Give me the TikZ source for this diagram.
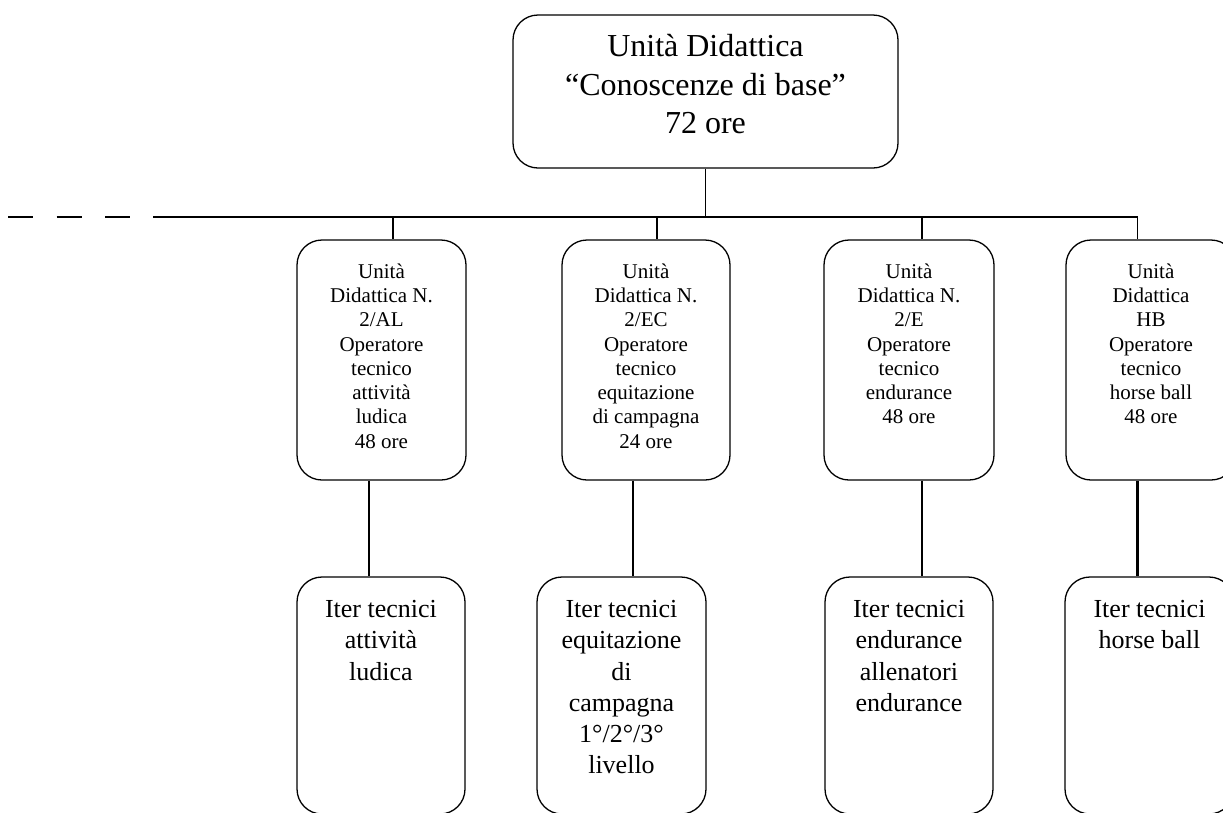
\documentclass[tikz,border=0pt]{standalone}
\usepackage{fontspec}
\setmainfont{Liberation Serif}
\begin{document}
\begin{tikzpicture}[x=1pt,y=-1pt,
  box/.style={draw, line width=1.3pt, rounded corners=25pt, inner sep=0pt},
  ln/.style={line width=1.3pt},
  heavyln/.style={line width=2.3pt},
  toptxt/.style={inner sep=0pt, align=center, anchor=north, font=\fontsize{32}{38.5}\selectfont},
  midtxt/.style={inner sep=0pt, align=center, anchor=north, font=\fontsize{21}{24.3}\selectfont},
  bottxt/.style={inner sep=0pt, align=center, anchor=north, font=\fontsize{26}{31.2}\selectfont}]
\useasboundingbox (0,0) rectangle (1223,812);
\clip (0,0) rectangle (1223,812);

% top box
\node[box, minimum width=385pt, minimum height=153pt] (top) at (705.5,91.5) {};
\node[toptxt] (toptext) at ([yshift=-20pt]top.north) {Unità Didattica\\“Conoscenze di base”\\72 ore};

% middle boxes
\node[box, minimum width=169pt, minimum height=240pt] (m1) at (381.5,360) {};
\node[box, minimum width=168pt, minimum height=240pt] (m2) at (646,360) {};
\node[box, minimum width=170pt, minimum height=240pt] (m3) at (909,360) {};
\node[box, minimum width=170pt, minimum height=240pt] (m4) at (1151,360) {};
\node[midtxt] (m1t) at ([yshift=-24pt]m1.north) {Unità\\Didattica N.\\2/AL\\Operatore\\tecnico\\attività\\ludica\\48 ore};
\node[midtxt] (m2t) at ([yshift=-24pt]m2.north) {Unità\\Didattica N.\\2/EC\\Operatore\\tecnico\\equitazione\\di campagna\\24 ore};
\node[midtxt] (m3t) at ([yshift=-24pt]m3.north) {Unità\\Didattica N.\\2/E\\Operatore\\tecnico\\endurance\\48 ore};
\node[midtxt] (m4t) at ([yshift=-24pt]m4.north) {Unità\\Didattica\\HB\\Operatore\\tecnico\\horse ball\\48 ore};

% bottom boxes
\node[box, minimum width=168pt, minimum height=237pt] (b1) at (381,695.5) {};
\node[box, minimum width=169pt, minimum height=237pt] (b2) at (621.5,695.5) {};
\node[box, minimum width=168pt, minimum height=237pt] (b3) at (909,695.5) {};
\node[box, minimum width=169pt, minimum height=237pt] (b4) at (1149.5,695.5) {};
\node[bottxt] (b1t) at ([yshift=-24pt]b1.north) {Iter tecnici\\attività\\ludica};
\node[bottxt] (b2t) at ([yshift=-24pt]b2.north) {Iter tecnici\\equitazione\\di\\campagna\\1°/2°/3°\\livello};
\node[bottxt] (b3t) at ([yshift=-24pt]b3.north) {Iter tecnici\\endurance\\allenatori\\endurance};
\node[bottxt] (b4t) at ([yshift=-24pt]b4.north) {Iter tecnici\\horse ball};

% bus line
\coordinate (dashstart) at (8,217);
\coordinate (busstart) at (153,217);
\draw[ln, dash pattern=on 25pt off 23.5pt] (dashstart) -- (busstart);
\draw[ln] (busstart) -- ([xshift=-13.5pt]m4.north |- busstart) -- ([xshift=-13.5pt]m4.north);
\draw[ln] (top.south) -- (top.south |- busstart);
\draw[ln] ([xshift=11.5pt]m1.north |- busstart) -- ([xshift=11.5pt]m1.north);
\draw[ln] ([xshift=11pt]m2.north |- busstart) -- ([xshift=11pt]m2.north);
\draw[ln] ([xshift=13pt]m3.north |- busstart) -- ([xshift=13pt]m3.north);

% lower connectors
\draw[heavyln] ([xshift=-12.5pt]m1.south) -- ([xshift=-12.5pt]m1.south |- b1.north);
\draw[heavyln] ([xshift=-13pt]m2.south) -- ([xshift=-13pt]m2.south |- b2.north);
\draw[heavyln] ([xshift=13pt]m3.south) -- ([xshift=13pt]m3.south |- b3.north);
\draw[heavyln] ([xshift=-13.5pt]m4.south) -- ([xshift=-13.5pt]m4.south |- b4.north);
\end{tikzpicture}
\end{document}
